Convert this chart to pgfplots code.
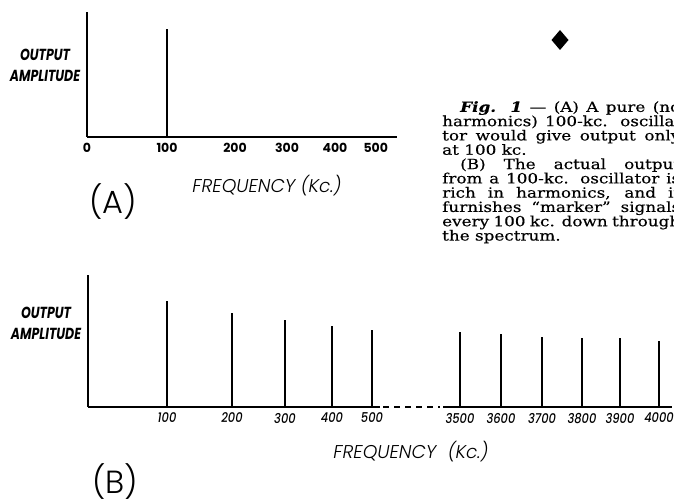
\documentclass[border=0pt]{standalone}
\usepackage{fontspec}
\usepackage{pgfplots}
\usepackage{pgfplotstable}
\pgfplotsset{compat=1.18}
\setmainfont{DejaVu Serif}
\newfontfamily\capfont[FakeStretch=1.2, FakeBold=0.4]{DejaVu Serif}
\newfontfamily\geo{Poppins}
\newfontfamily\geomed[FakeStretch=0.85]{Poppins Medium}
\newfontfamily\geocond[FakeStretch=0.78]{Poppins}
\newfontfamily\geolight{Poppins Light}
\newcommand\capline[1]{\hbox to 238pt{#1}}

\pgfplotstableread{
kc amp
100 108
}\harmA

\pgfplotstableread{
pos kc amp
167 100 106
232 200 94
285 300 87
332 400 81
372 500 77
460 3500 75
501 3600 73
542 3700 70
582 3800 69
620 3900 69
659 4000 66
}\harmB

\begin{document}
\begin{tikzpicture}[x=1pt,y=1pt]
\useasboundingbox (0,0) rectangle (674,501);
\clip (0,0) rectangle (674,501);

% ---------- (A) ----------
\begin{axis}[at={(87pt,364pt)}, anchor=south west, scale only axis,
  width=310pt, height=125pt,
  xmin=0, xmax=387.5, ymin=0, ymax=125,
  axis x line*=bottom, axis y line*=left,
  axis line style={line width=1.5pt},
  ytick=\empty,
  xtick={0,100,185,250,310,361},
  xticklabels={0,100,200,300,400,500},
  major tick length=0pt,
  xticklabel style={font=\geo\bfseries\fontsize{12.5}{13}\selectfont, yshift=-2.5pt},
  clip=false]
\addplot[ycomb, no marks, line width=2pt, black] table[x=kc,y=amp]{\harmA};
\end{axis}

% ---------- (B) ----------
\begin{axis}[at={(88pt,94pt)}, anchor=south west, scale only axis,
  width=584pt, height=132pt,
  xmin=88, xmax=672, ymin=0, ymax=132,
  axis x line*=bottom, axis y line*=left,
  axis line style={line width=1.5pt},
  x axis line style={draw=none},
  ytick=\empty,
  xtick=data,
  xticklabels from table={\harmB}{kc},
  major tick length=0pt,
  xticklabel style={font=\geomed\itshape\fontsize{13.5}{14}\selectfont, yshift=-2.5pt},
  clip=false]
\addplot[ycomb, no marks, line width=2pt, black] table[x=pos,y=amp]{\harmB};
\addplot[no marks, line width=1.3pt, black] coordinates {(88,0) (380,0)};
\addplot[no marks, line width=1.3pt, black, dash pattern=on 6pt off 5pt] coordinates {(383,0) (440,0)};
\addplot[no marks, line width=1.3pt, black] coordinates {(443,0) (672,0)};
\end{axis}

% ---------- labels ----------
\node[align=center, font=\geocond\bfseries\itshape\fontsize{16}{21}\selectfont] at (45,435.5) {OUTPUT\\AMPLITUDE};
\node[align=center, font=\geocond\bfseries\itshape\fontsize{16}{21}\selectfont] at (46,177.5) {OUTPUT\\AMPLITUDE};
\node[font=\geolight\itshape\fontsize{18.5}{20}\selectfont] at (267,315) {FREQUENCY (Kc.)};
\node[font=\geolight\itshape\fontsize{18.5}{20}\selectfont] at (411,49) {FREQUENCY\hspace{6pt} (Kc.)};
\node[font=\geolight\fontsize{32}{34}\selectfont] at (113,299) {(A)};
\node[font=\geolight\fontsize{32}{34}\selectfont] at (115,19) {(B)};

% diamond ornament
\fill (551.5,461) -- (560,471) -- (568.5,461) -- (560,451) -- cycle;

% ---------- caption ----------
\node[anchor=north west, inner sep=0pt] at (442,400)
{\capfont\fontsize{14}{14.3}\selectfont
\vbox{\baselineskip=14.3pt\lineskiplimit=-10pt
\capline{\hspace*{18pt}\textbf{\textit{Fig. 1}} — (A) A pure (no}
\capline{harmonics) 100-kc. oscilla-}
\capline{tor would give output only}
\hbox{at 100 kc.}
\capline{\hspace*{18pt}(B) The actual output}
\capline{from a 100-kc. oscillator is}
\capline{rich in harmonics, and it}
\capline{furnishes “marker” signals}
\capline{every 100 kc. down through}
\hbox{the spectrum.}}};
\end{tikzpicture}
\end{document}
